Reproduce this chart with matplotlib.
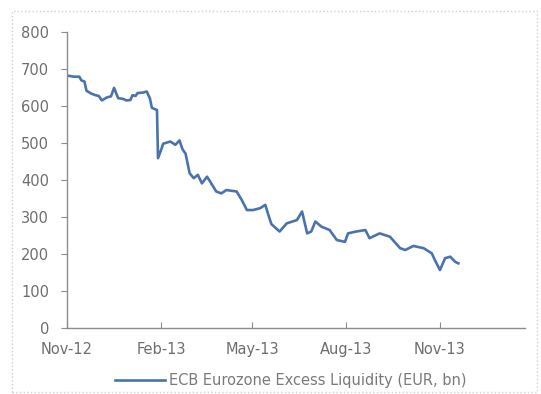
import matplotlib
matplotlib.use('Agg')
import matplotlib.pyplot as plt
import matplotlib.dates as mdates
import pandas as pd
from matplotlib.patches import Rectangle

# ECB excess liquidity, EUR bn
dates = ['2012-11-01', '2012-11-08', '2012-11-13', '2012-11-15', '2012-11-18', '2012-11-20',
         '2012-11-25', '2012-11-29', '2012-12-02', '2012-12-05', '2012-12-10', '2012-12-14',
         '2012-12-17', '2012-12-21', '2012-12-26', '2012-12-29', '2013-01-02', '2013-01-04',
         '2013-01-07', '2013-01-09', '2013-01-14', '2013-01-18', '2013-01-21', '2013-01-23',
         '2013-01-28', '2013-01-29', '2013-02-01', '2013-02-03', '2013-02-10', '2013-02-15',
         '2013-02-19', '2013-02-22', '2013-02-25', '2013-03-01', '2013-03-05', '2013-03-09',
         '2013-03-13', '2013-03-18', '2013-03-21', '2013-03-27', '2013-04-01', '2013-04-06',
         '2013-04-16', '2013-04-21', '2013-04-26', '2013-05-02', '2013-05-09', '2013-05-14',
         '2013-05-17', '2013-05-20', '2013-05-28', '2013-06-04', '2013-06-14', '2013-06-19',
         '2013-06-24', '2013-06-28', '2013-07-02', '2013-07-08', '2013-07-16', '2013-07-23',
         '2013-07-31', '2013-08-03', '2013-08-11', '2013-08-20', '2013-08-24', '2013-09-03',
         '2013-09-13', '2013-09-23', '2013-09-28', '2013-10-06', '2013-10-16', '2013-10-24',
         '2013-10-27', '2013-11-01', '2013-11-06', '2013-11-11', '2013-11-16', '2013-11-19']
liquidity = [681, 678, 678, 668, 665, 640,
             632, 628, 626, 614, 622, 625,
             648, 620, 618, 614, 615, 628,
             626, 634, 635, 638, 620, 594,
             588, 458, 480, 497, 503, 494,
             506, 482, 470, 417, 404, 413,
             390, 408, 395, 368, 363, 372,
             368, 345, 318, 318, 323, 332,
             305, 280, 260, 282, 291, 314,
             255, 260, 287, 273, 264, 237,
             232, 255, 260, 264, 242, 255,
             246, 215, 210, 221, 215, 201,
             183, 156, 188, 192, 178, 174]
x_ticks = ['2012-11-01', '2013-02-01', '2013-05-01', '2013-08-01', '2013-11-01']
label = 'ECB Eurozone Excess Liquidity (EUR, bn)'

dates = pd.to_datetime(dates)

fig = plt.figure(figsize=(5.41, 3.94), dpi=100)
ax = fig.add_axes([0.124, 0.168, 0.846, 0.752])

line, = ax.plot(dates, liquidity, color='#4a72ad', linewidth=1.9)

ax.set_ylim(0, 800)
ax.set_yticks(range(0, 801, 100))
ax.set_xlim(pd.Timestamp('2012-11-01'), pd.Timestamp('2014-01-23'))
ax.set_xticks(pd.to_datetime(x_ticks))
ax.xaxis.set_major_formatter(mdates.DateFormatter('%b-%y'))

for side in ['top', 'right']:
    ax.spines[side].set_visible(False)
for side in ['left', 'bottom']:
    ax.spines[side].set_color('#8c8c8c')
    ax.spines[side].set_linewidth(1)

ax.tick_params(axis='y', direction='out', length=4, color='#8c8c8c', labelcolor='#6e6e6e',
               labelsize=10.5, pad=9)
ax.tick_params(axis='x', direction='in', length=4, color='#8c8c8c', labelcolor='#6e6e6e',
               labelsize=10.5, pad=10)

fig.legend([line], [label], loc='center', bbox_to_anchor=(0.538, 0.035), frameon=False,
           fontsize=10.5, labelcolor='#7a7a7a', handlelength=3.4, handletextpad=0.3)

# light dotted frame around the chart area
fig.patches.append(Rectangle((0.022, 0.005), 0.97, 0.967, transform=fig.transFigure,
                             fill=False, edgecolor='#d0d0d0', linestyle=':', linewidth=1))

plt.savefig('out.png', dpi=100)
plt.close()
